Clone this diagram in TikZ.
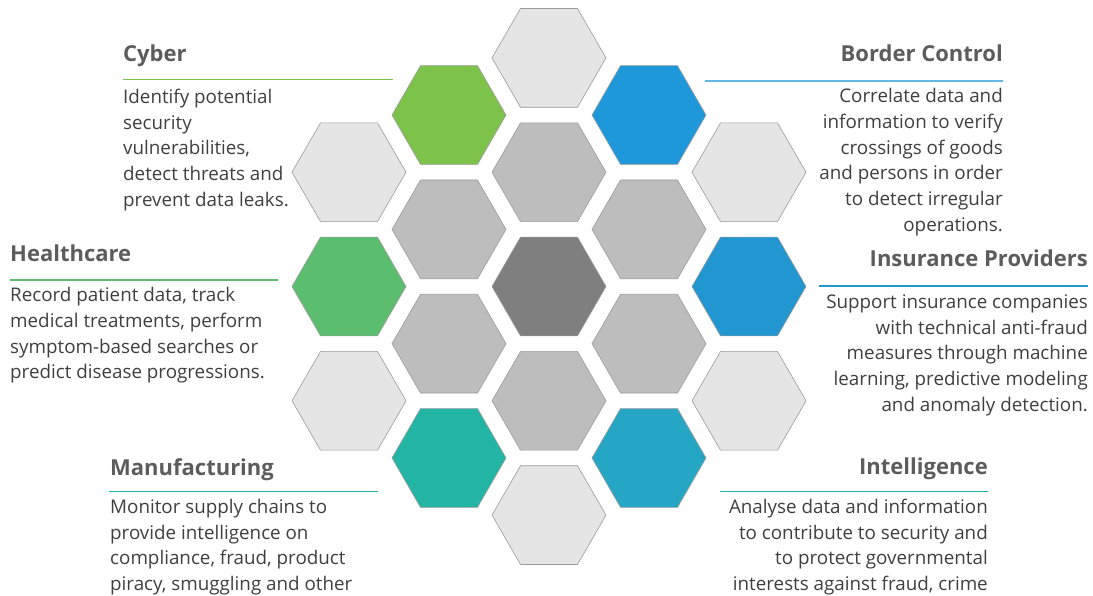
\documentclass[tikz,border=0pt]{standalone}
\usepackage{fontspec}
\setmainfont{Open Sans}
\usetikzlibrary{shapes.geometric}

\definecolor{cybergreen}{HTML}{7DC24B}
\definecolor{healthgreen}{HTML}{5BBE6E}
\definecolor{borderblue}{HTML}{1E98DA}
\definecolor{insurblue}{HTML}{2196D0}
\definecolor{manuteal}{HTML}{22B5A4}
\definecolor{intelblue}{HTML}{25A6C4}
\definecolor{palegray}{HTML}{E5E5E5}
\definecolor{midgray}{HTML}{BDBDBD}
\definecolor{coregray}{HTML}{7F7F7F}
\definecolor{hexline}{HTML}{9A9A9A}
\definecolor{titlegray}{HTML}{5C5C5C}
\definecolor{bodygray}{HTML}{3F3F3F}

\begin{document}
\begin{tikzpicture}[x=1pt,y=1pt,node distance=114.3pt]
\useasboundingbox (0,0) rectangle (1093,595);

\tikzstyle{hexa} = [regular polygon, regular polygon sides=6, minimum size=114pt, inner sep=0pt, draw=hexline, line width=0.6pt]
\tikzstyle{title} = [font=\fontsize{22}{26}\selectfont\bfseries, text=titlegray, inner sep=0pt]
\tikzstyle{body} = [font=\fontsize{18.8}{25.7}\selectfont, text=bodygray, inner sep=0pt]
\tikzstyle{rule} = [line width=1.4pt]

% middle column
\node (core) [hexa, fill=coregray] at (549,308.5) {};
\node (upper) [hexa, fill=midgray, above of=core] {};
\node (top) [hexa, fill=palegray, above of=upper] {};
\node (lower) [hexa, fill=midgray, below of=core] {};
\node (bottom) [hexa, fill=palegray, below of=lower] {};
% inner columns
\node (cyberhex) [hexa, fill=cybergreen, above of=core, xshift=-100pt, yshift=57.15pt] {};
\node (innerul) [hexa, fill=midgray, above of=core, xshift=-100pt, yshift=-57.15pt] {};
\node (innerll) [hexa, fill=midgray, below of=core, xshift=-100pt, yshift=57.15pt] {};
\node (manuhex) [hexa, fill=manuteal, below of=core, xshift=-100pt, yshift=-57.15pt] {};
\node (borderhex) [hexa, fill=borderblue, above of=core, xshift=100pt, yshift=57.15pt] {};
\node (innerur) [hexa, fill=midgray, above of=core, xshift=100pt, yshift=-57.15pt] {};
\node (innerlr) [hexa, fill=midgray, below of=core, xshift=100pt, yshift=57.15pt] {};
\node (intelhex) [hexa, fill=intelblue, below of=core, xshift=100pt, yshift=-57.15pt] {};
% outer columns
\node (outerul) [hexa, fill=palegray, above of=core, xshift=-200pt] {};
\node (healthhex) [hexa, fill=healthgreen, node distance=200pt, left of=core] {};
\node (outerll) [hexa, fill=palegray, below of=core, xshift=-200pt] {};
\node (outerur) [hexa, fill=palegray, above of=core, xshift=200pt] {};
\node (insurhex) [hexa, fill=insurblue, node distance=200pt, right of=core] {};
\node (outerlr) [hexa, fill=palegray, below of=core, xshift=200pt] {};

% Cyber
\node (cybertitle) [title, anchor=base west] at (123,533.5) {Cyber};
\draw[rule, draw=cybergreen] (123,515.7) -- (393,515.7);
\node (cybertext) [body, anchor=north west, align=left] at (123,509.7)
  {\strut Identify potential\\security\\vulnerabilities,\\detect threats and\\prevent data leaks.};

% Border Control
\node (bordertitle) [title, anchor=base east] at (1003,533.3) {Border Control};
\draw[rule, draw=borderblue!70] (705,514) -- (1003,514);
\node (bordertext) [body, anchor=north east, align=right] at (1003,510.3)
  {\strut Correlate data and\\information to verify\\crossings of goods\\and persons in order\\to detect irregular\\operations.};

% Healthcare
\node (healthtitle) [title, anchor=base west] at (10,333.3) {Healthcare};
\draw[rule, draw=healthgreen] (10,315) -- (278,315);
\node (healthtext) [body, anchor=north west, align=left] at (10,311.3)
  {\strut Record patient data, track\\medical treatments, perform\\symptom-based searches or\\predict disease progressions.};

% Insurance Providers
\node (insurtitle) [title, anchor=base east] at (1088,328.3) {Insurance Providers};
\draw[rule, draw=insurblue] (819,309) -- (1088,309);
\node (insurtext) [body, anchor=north east, align=right] at (1088,304.7)
  {\strut Support insurance companies\\with technical anti-fraud\\measures through machine\\learning, predictive modeling\\and anomaly detection.};

% Manufacturing
\node (manutitle) [title, anchor=base west] at (110,119) {Manufacturing};
\draw[rule, draw=manuteal] (109,103.3) -- (378,103.3);
\node (manutext) [body, anchor=north west, align=left] at (110,99.7)
  {\strut Monitor supply chains to\\provide intelligence on\\compliance, fraud, product\\piracy, smuggling and other};

% Intelligence
\node (inteltitle) [title, anchor=base east] at (988,121) {Intelligence};
\draw[rule, draw=manuteal!80!intelblue] (720,103.3) -- (988,103.3);
\node (inteltext) [body, anchor=north east, align=right] at (988,99.7)
  {\strut Analyse data and information\\to contribute to security and\\to protect governmental\\interests against fraud, crime};
\end{tikzpicture}
\end{document}
